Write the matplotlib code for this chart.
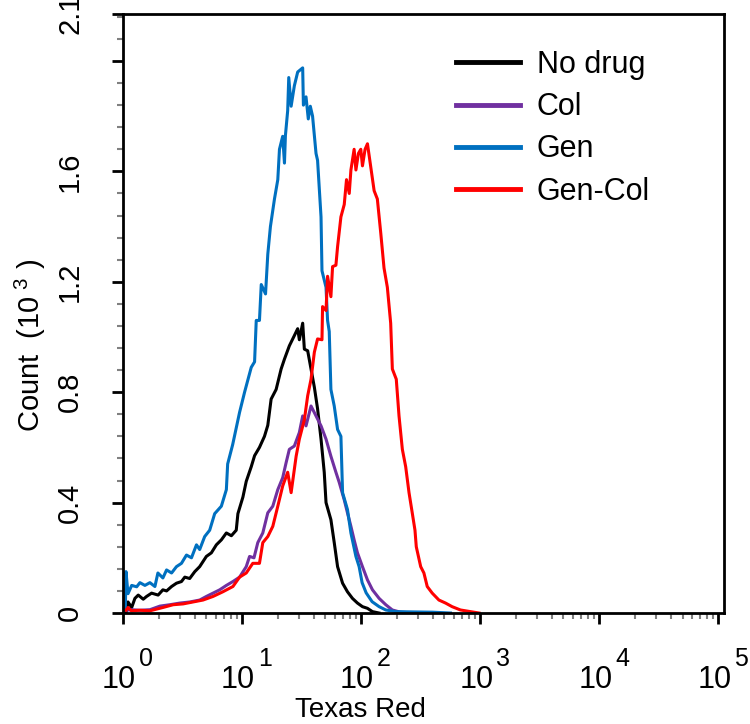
import matplotlib
matplotlib.use('Agg')
import numpy as np
import matplotlib.pyplot as plt
from matplotlib import transforms
from matplotlib.ticker import MultipleLocator, LogLocator, NullFormatter

plt.rcParams['font.family'] = ['Liberation Sans', 'DejaVu Sans']
plt.rcParams['mathtext.fontset'] = 'custom'
plt.rcParams['mathtext.rm'] = 'Liberation Sans'

# x values are log10(Texas Red intensity), y values are counts in thousands
nodrug_log = [0.025, 0.042, 0.073, 0.10, 0.128, 0.17, 0.198, 0.24, 0.295, 0.335, 0.366, 0.408,
              0.449, 0.491, 0.519, 0.56, 0.603, 0.644, 0.70, 0.742, 0.784, 0.826, 0.868, 0.91,
              0.951, 0.965, 1.007, 1.035, 1.077, 1.105, 1.146, 1.188, 1.216, 1.244, 1.286, 1.328,
              1.356, 1.397, 1.439, 1.467, 1.481, 1.509, 1.523, 1.551, 1.579, 1.607, 1.634, 1.663,
              1.69, 1.705, 1.746, 1.774, 1.802, 1.844, 1.885, 1.927, 1.969, 2.011, 2.053, 2.095, 2.15]
nodrug_cnt = [0.0, 0.04, 0.02, 0.053, 0.065, 0.05, 0.06, 0.072, 0.065, 0.084, 0.08, 0.096,
              0.108, 0.114, 0.13, 0.125, 0.15, 0.168, 0.205, 0.218, 0.247, 0.265, 0.29, 0.28,
              0.30, 0.36, 0.42, 0.477, 0.53, 0.57, 0.60, 0.64, 0.68, 0.775, 0.81, 0.884,
              0.92, 0.968, 1.005, 1.03, 0.99, 1.05, 0.956, 0.95, 0.884, 0.818, 0.74, 0.63,
              0.51, 0.40, 0.338, 0.255, 0.168, 0.108, 0.077, 0.053, 0.036, 0.023, 0.017, 0.005, 0.0]

col_log = [0.025, 0.073, 0.14, 0.226, 0.31, 0.393, 0.477, 0.561, 0.644, 0.70, 0.756, 0.812,
           0.868, 0.923, 0.979, 1.035, 1.063, 1.10, 1.132, 1.174, 1.216, 1.258, 1.30, 1.341,
           1.37, 1.397, 1.439, 1.481, 1.509, 1.537, 1.579, 1.621, 1.663, 1.705, 1.746, 1.788,
           1.816, 1.858, 1.885, 1.914, 1.941, 1.969, 2.011, 2.053, 2.095, 2.151, 2.207, 2.262,
           2.33, 2.45]
col_cnt = [0.01, 0.012, 0.01, 0.012, 0.025, 0.03, 0.036, 0.04, 0.047, 0.06, 0.072, 0.084,
           0.10, 0.114, 0.13, 0.168, 0.205, 0.20, 0.255, 0.29, 0.363, 0.387, 0.447, 0.49,
           0.545, 0.593, 0.605, 0.654, 0.714, 0.678, 0.75, 0.714, 0.678, 0.63, 0.568, 0.51,
           0.473, 0.41, 0.363, 0.314, 0.265, 0.218, 0.168, 0.12, 0.084, 0.053, 0.03, 0.011,
           0.003, 0.0]

gen_log = [0.02, 0.025, 0.042, 0.073, 0.115, 0.142, 0.184, 0.226, 0.268, 0.293, 0.335, 0.366,
           0.408, 0.449, 0.491, 0.533, 0.575, 0.617, 0.644, 0.686, 0.728, 0.77, 0.826, 0.868,
           0.879, 0.921, 0.979, 1.021, 1.077, 1.105, 1.119, 1.146, 1.161, 1.197, 1.216, 1.238,
           1.272, 1.30, 1.314, 1.341, 1.356, 1.364, 1.383, 1.392, 1.412, 1.439, 1.467, 1.495,
           1.509, 1.515, 1.537, 1.556, 1.573, 1.592, 1.621, 1.634, 1.663, 1.671, 1.705, 1.718,
           1.732, 1.746, 1.774, 1.802, 1.83, 1.844, 1.885, 1.914, 1.956, 1.983, 2.008, 2.042,
           2.092, 2.151, 2.207, 2.29, 2.43, 2.6, 2.75]
gen_cnt = [0.02, 0.15, 0.07, 0.10, 0.095, 0.11, 0.10, 0.11, 0.096, 0.145, 0.127, 0.156,
           0.145, 0.168, 0.18, 0.21, 0.20, 0.247, 0.23, 0.277, 0.30, 0.36, 0.387, 0.447,
           0.54, 0.61, 0.727, 0.80, 0.89, 0.91, 1.06, 1.06, 1.19, 1.156, 1.30, 1.40,
           1.50, 1.57, 1.68, 1.727, 1.63, 1.73, 1.82, 1.94, 1.836, 1.91, 1.96, 1.97,
           1.975, 1.84, 1.87, 1.79, 1.836, 1.80, 1.665, 1.64, 1.435, 1.24, 1.18, 1.06,
           1.02, 0.81, 0.75, 0.665, 0.64, 0.436, 0.375, 0.29, 0.205, 0.168, 0.11, 0.073,
           0.041, 0.023, 0.011, 0.005, 0.004, 0.003, 0.0]

gencol_log = [0.025, 0.042, 0.07, 0.14, 0.226, 0.335, 0.421, 0.505, 0.588, 0.672, 0.756, 0.839,
              0.923, 0.979, 1.035, 1.09, 1.146, 1.174, 1.216, 1.258, 1.30, 1.341, 1.383, 1.412,
              1.454, 1.481, 1.523, 1.551, 1.579, 1.607, 1.634, 1.671, 1.676, 1.705, 1.718, 1.746,
              1.76, 1.788, 1.802, 1.83, 1.858, 1.877, 1.90, 1.914, 1.941, 1.956, 1.977, 1.997,
              2.011, 2.033, 2.053, 2.109, 2.136, 2.165, 2.192, 2.22, 2.248, 2.262, 2.295, 2.318,
              2.346, 2.374, 2.402, 2.429, 2.452, 2.463, 2.50, 2.527, 2.555, 2.597, 2.653, 2.709,
              2.764, 2.834, 2.918, 2.99]
gencol_cnt = [0.01, 0.02, 0.008, 0.01, 0.008, 0.02, 0.03, 0.033, 0.04, 0.047, 0.06, 0.077,
              0.096, 0.13, 0.145, 0.18, 0.18, 0.255, 0.277, 0.314, 0.387, 0.46, 0.51, 0.436,
              0.568, 0.63, 0.70, 0.787, 0.847, 0.945, 0.993, 0.99, 1.11, 1.096, 1.22, 1.146,
              1.255, 1.26, 1.327, 1.435, 1.48, 1.57, 1.52, 1.605, 1.68, 1.605, 1.665, 1.68,
              1.62, 1.68, 1.70, 1.53, 1.50, 1.375, 1.25, 1.18, 1.05, 0.884, 0.847, 0.714,
              0.593, 0.53, 0.436, 0.363, 0.30, 0.24, 0.168, 0.145, 0.096, 0.072, 0.047, 0.036,
              0.023, 0.011, 0.005, 0.0]

names = ['No drug', 'Col', 'Gen', 'Gen-Col']
colors = ['#000000', '#7030A0', '#0070C0', '#FF0000']
series = [(nodrug_log, nodrug_cnt), (col_log, col_cnt), (gen_log, gen_cnt), (gencol_log, gencol_cnt)]

y_ticks = [0, 0.4, 0.8, 1.2, 1.6, 2.0, 2.17]
y_labels = ['0', '0.4', '0.8', '1.2', '1.6', '', '2.1']

fig = plt.figure(figsize=(7.5, 7.24), dpi=100)
ax = fig.add_axes([0.164, 0.1533, 0.8013, 0.8273])

for (lx, cnt), name, c in zip(series, names, colors):
    ax.plot(10 ** np.array(lx), cnt, color=c, lw=2.2, label=name)

ax.set_xscale('log')
ax.set_xlim(1, 10 ** 5.047)
ax.set_ylim(0, 2.17)

for s in ax.spines.values():
    s.set_linewidth(2.0)

ax.xaxis.set_major_locator(LogLocator(base=10, numticks=10))
ax.xaxis.set_minor_locator(LogLocator(base=10, subs=np.arange(2, 10), numticks=20))
ax.xaxis.set_major_formatter(NullFormatter())
ax.xaxis.set_minor_formatter(NullFormatter())

ax.set_yticks(y_ticks)
ax.set_yticklabels(y_labels)
ax.yaxis.set_minor_locator(MultipleLocator(0.08))

ax.tick_params(which='major', direction='out', length=8, width=2.0, color='black')
ax.tick_params(which='minor', direction='out', length=4, width=1.5, color='#808080')
ax.tick_params(axis='y', which='major', labelsize=21, pad=20, labelrotation=90)
for lbl in ax.get_yticklabels():
    lbl.set_va('center')

# x tick labels drawn as base and raised exponent
def offs(dx, dy):
    return transforms.ScaledTranslation(dx / 100, dy / 100, fig.dpi_scale_trans)

for e in range(6):
    ax.text(10 ** e, 0, '10', transform=ax.get_xaxis_transform() + offs(-4, -75),
            ha='center', va='baseline', fontsize=22)
    ax.text(10 ** e, 0, str(e), transform=ax.get_xaxis_transform() + offs(16, -53),
            ha='left', va='baseline', fontsize=18)

fig.text(360 / 750, 1 - 717 / 724, 'Texas Red', ha='center', va='baseline', fontsize=20)
fig.text(30 / 750, 1 - 345 / 724, r'Count  (10$^{\ \mathregular{3}}$ )', rotation=90,
         ha='center', va='center', fontsize=21)

leg = ax.legend(loc='upper left', bbox_to_anchor=(0.554, 0.94), frameon=False, fontsize=22,
                borderpad=0, borderaxespad=0, handlelength=2.1, handletextpad=0.55,
                labelspacing=0.4)
for ln in leg.get_lines():
    ln.set_linewidth(3.5)

fig.savefig('out.png', dpi=100)
